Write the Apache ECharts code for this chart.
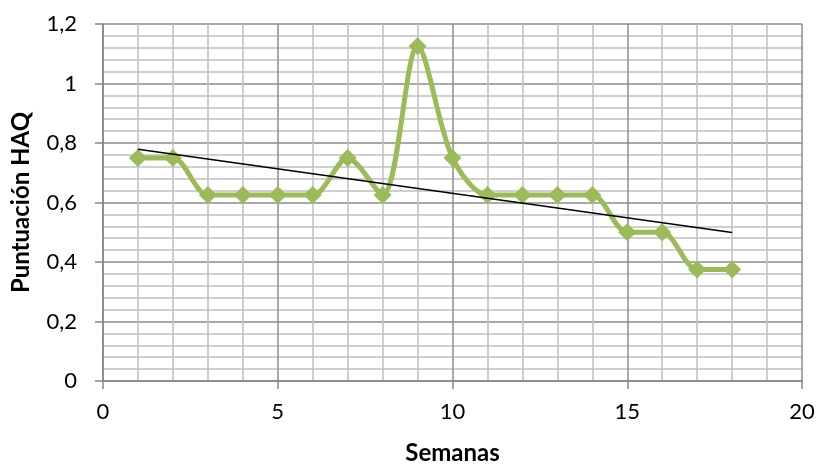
<!DOCTYPE html>
<html><head><meta charset="utf-8">
<script src="https://cdn.jsdelivr.net/npm/echarts@6/dist/echarts.min.js"></script>
<style>html,body{margin:0;padding:0;background:#fff}#c{width:819px;height:465px}</style>
</head><body><div id="c"></div>
<script>
const semanas = [1,2,3,4,5,6,7,8,9,10,11,12,13,14,15,16,17,18];
const haq = [0.75,0.75,0.625,0.625,0.625,0.625,0.75,0.625,1.125,0.75,0.625,0.625,0.625,0.625,0.5,0.5,0.375,0.375];
const trendX = [1, 18];
const trendY = [0.779, 0.499];
const xTicks = [0, 5, 10, 15, 20];
const yTicks = [0, 0.2, 0.4, 0.6, 0.8, 1, 1.2];

const font = 'Lato, "Open Sans", sans-serif';
const chart = echarts.init(document.getElementById('c'), null, {renderer: 'canvas'});
chart.setOption({
  animation: false,
  grid: {left: 103, right: 17, top: 24, bottom: 84, containLabel: false, outerBoundsMode: 'none'},
  xAxis: {
    type: 'value', min: xTicks[0], max: xTicks[xTicks.length-1], interval: 5,
    name: 'Semanas', nameLocation: 'middle', nameGap: 60,
    nameTextStyle: {fontFamily: font, fontWeight: 'bold', fontSize: 24, color: '#000'},
    axisLine: {show: true, lineStyle: {color: '#868686', width: 1.5}},
    axisTick: {show: true, length: 8, lineStyle: {color: '#868686', width: 1.5}},
    minorTick: {show: false, splitNumber: 5},
    axisLabel: {fontFamily: font, fontSize: 22, color: '#000', margin: 20},
    splitLine: {show: true, lineStyle: {color: '#8C8C8C', width: 1.5}},
    minorSplitLine: {show: true, lineStyle: {color: '#C0C0C0', width: 1.5}}
  },
  yAxis: {
    type: 'value', min: yTicks[0], max: yTicks[yTicks.length-1], interval: 0.2,
    name: 'Puntuación HAQ', nameLocation: 'middle', nameGap: 70,
    nameTextStyle: {fontFamily: font, fontWeight: 'bold', fontSize: 24, color: '#000'},
    axisLine: {show: true, lineStyle: {color: '#868686', width: 1.5}},
    axisTick: {show: true, length: 8, lineStyle: {color: '#868686', width: 1.5}},
    minorTick: {show: false, splitNumber: 5},
    axisLabel: {fontFamily: font, fontSize: 22, color: '#000', margin: 26,
      formatter: v => String(Math.round(v*10)/10).replace('.', ',')},
    splitLine: {show: true, lineStyle: {color: '#8C8C8C', width: 1.5}},
    minorSplitLine: {show: true, lineStyle: {color: '#C0C0C0', width: 1.5}}
  },
  series: [
    {
      type: 'line',
      data: trendX.map((x, i) => [x, trendY[i]]),
      symbol: 'none',
      lineStyle: {color: '#000', width: 1.5},
      z: 3
    },
    {
      type: 'line',
      data: semanas.map((x, i) => [x, haq[i]]),
      smooth: 0.3,
      symbol: 'diamond', symbolSize: 18,
      itemStyle: {color: '#9BBB59'},
      lineStyle: {color: '#9BBB59', width: 5},
      z: 2
    }
  ]
});
</script></body></html>
